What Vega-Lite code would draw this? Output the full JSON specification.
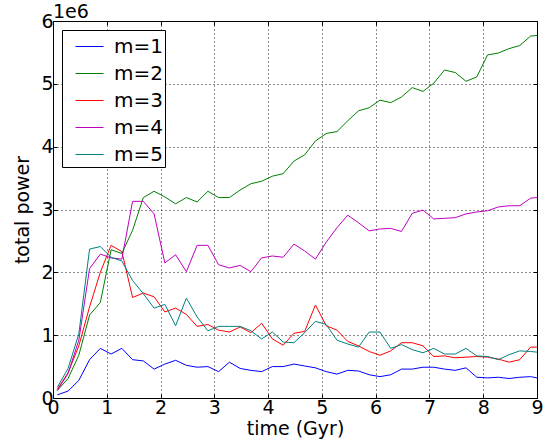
{
  "$schema": "https://vega.github.io/schema/vega-lite/v6.json",
  "autosize": "none",
  "width": 484,
  "height": 377,
  "padding": {"left": 53, "top": 21, "right": 15, "bottom": 45},
  "background": "white",
  "config": {
    "font": "DejaVu Sans",
    "view": {"stroke": "black", "strokeWidth": 1},
    "axis": {
      "domain": false,
      "tickColor": "black",
      "tickSize": -4,
      "tickWidth": 1,
      "labelColor": "black",
      "labelFontSize": 19,
      "titleColor": "black",
      "titleFontSize": 19,
      "titleFontWeight": "normal",
      "gridColor": "black",
      "gridDash": [1, 3],
      "gridWidth": 1,
      "gridOpacity": 0.9
    },
    "legend": {
      "orient": "none",
      "legendX": 9,
      "legendY": 9,
      "strokeColor": "black",
      "fillColor": "white",
      "padding": 2,
      "symbolType": "stroke",
      "symbolSize": 784,
      "symbolStrokeWidth": 1,
      "symbolOffset": 11,
      "labelFontSize": 20,
      "labelColor": "black",
      "labelOffset": 10,
      "rowPadding": 2,
      "cornerRadius": 0
    }
  },
  "title": {
    "text": "1e6",
    "anchor": "start",
    "frame": "group",
    "offset": -10,
    "fontSize": 19,
    "fontWeight": "normal",
    "color": "black"
  },
  "data": {
    "values": [
      {"m": "m=1", "time": 0.08, "power": 50000},
      {"m": "m=1", "time": 0.28, "power": 110000},
      {"m": "m=1", "time": 0.48, "power": 280000},
      {"m": "m=1", "time": 0.68, "power": 610000},
      {"m": "m=1", "time": 0.88, "power": 790000},
      {"m": "m=1", "time": 1.08, "power": 700000},
      {"m": "m=1", "time": 1.28, "power": 790000},
      {"m": "m=1", "time": 1.48, "power": 610000},
      {"m": "m=1", "time": 1.68, "power": 590000},
      {"m": "m=1", "time": 1.88, "power": 460000},
      {"m": "m=1", "time": 2.08, "power": 540000},
      {"m": "m=1", "time": 2.28, "power": 600000},
      {"m": "m=1", "time": 2.48, "power": 520000},
      {"m": "m=1", "time": 2.68, "power": 490000},
      {"m": "m=1", "time": 2.88, "power": 500000},
      {"m": "m=1", "time": 3.08, "power": 420000},
      {"m": "m=1", "time": 3.28, "power": 570000},
      {"m": "m=1", "time": 3.48, "power": 470000},
      {"m": "m=1", "time": 3.68, "power": 440000},
      {"m": "m=1", "time": 3.88, "power": 420000},
      {"m": "m=1", "time": 4.08, "power": 500000},
      {"m": "m=1", "time": 4.28, "power": 500000},
      {"m": "m=1", "time": 4.48, "power": 540000},
      {"m": "m=1", "time": 4.68, "power": 510000},
      {"m": "m=1", "time": 4.88, "power": 480000},
      {"m": "m=1", "time": 5.08, "power": 420000},
      {"m": "m=1", "time": 5.28, "power": 380000},
      {"m": "m=1", "time": 5.48, "power": 440000},
      {"m": "m=1", "time": 5.68, "power": 430000},
      {"m": "m=1", "time": 5.88, "power": 370000},
      {"m": "m=1", "time": 6.08, "power": 340000},
      {"m": "m=1", "time": 6.28, "power": 370000},
      {"m": "m=1", "time": 6.48, "power": 460000},
      {"m": "m=1", "time": 6.68, "power": 460000},
      {"m": "m=1", "time": 6.88, "power": 490000},
      {"m": "m=1", "time": 7.08, "power": 490000},
      {"m": "m=1", "time": 7.28, "power": 460000},
      {"m": "m=1", "time": 7.48, "power": 440000},
      {"m": "m=1", "time": 7.68, "power": 480000},
      {"m": "m=1", "time": 7.88, "power": 330000},
      {"m": "m=1", "time": 8.08, "power": 320000},
      {"m": "m=1", "time": 8.28, "power": 330000},
      {"m": "m=1", "time": 8.48, "power": 310000},
      {"m": "m=1", "time": 8.68, "power": 330000},
      {"m": "m=1", "time": 8.88, "power": 340000},
      {"m": "m=1", "time": 9.0, "power": 320000},

      {"m": "m=2", "time": 0.08, "power": 120000},
      {"m": "m=2", "time": 0.28, "power": 310000},
      {"m": "m=2", "time": 0.48, "power": 680000},
      {"m": "m=2", "time": 0.68, "power": 1320000},
      {"m": "m=2", "time": 0.88, "power": 1520000},
      {"m": "m=2", "time": 1.08, "power": 2360000},
      {"m": "m=2", "time": 1.28, "power": 2300000},
      {"m": "m=2", "time": 1.48, "power": 2670000},
      {"m": "m=2", "time": 1.68, "power": 3190000},
      {"m": "m=2", "time": 1.88, "power": 3290000},
      {"m": "m=2", "time": 2.08, "power": 3200000},
      {"m": "m=2", "time": 2.28, "power": 3090000},
      {"m": "m=2", "time": 2.48, "power": 3190000},
      {"m": "m=2", "time": 2.68, "power": 3120000},
      {"m": "m=2", "time": 2.88, "power": 3290000},
      {"m": "m=2", "time": 3.08, "power": 3190000},
      {"m": "m=2", "time": 3.28, "power": 3190000},
      {"m": "m=2", "time": 3.48, "power": 3310000},
      {"m": "m=2", "time": 3.68, "power": 3410000},
      {"m": "m=2", "time": 3.88, "power": 3450000},
      {"m": "m=2", "time": 4.08, "power": 3530000},
      {"m": "m=2", "time": 4.28, "power": 3570000},
      {"m": "m=2", "time": 4.48, "power": 3770000},
      {"m": "m=2", "time": 4.68, "power": 3870000},
      {"m": "m=2", "time": 4.88, "power": 4090000},
      {"m": "m=2", "time": 5.08, "power": 4210000},
      {"m": "m=2", "time": 5.28, "power": 4240000},
      {"m": "m=2", "time": 5.48, "power": 4410000},
      {"m": "m=2", "time": 5.68, "power": 4570000},
      {"m": "m=2", "time": 5.88, "power": 4620000},
      {"m": "m=2", "time": 6.08, "power": 4740000},
      {"m": "m=2", "time": 6.28, "power": 4700000},
      {"m": "m=2", "time": 6.48, "power": 4790000},
      {"m": "m=2", "time": 6.68, "power": 4940000},
      {"m": "m=2", "time": 6.88, "power": 4880000},
      {"m": "m=2", "time": 7.08, "power": 5010000},
      {"m": "m=2", "time": 7.28, "power": 5220000},
      {"m": "m=2", "time": 7.48, "power": 5180000},
      {"m": "m=2", "time": 7.68, "power": 5040000},
      {"m": "m=2", "time": 7.88, "power": 5110000},
      {"m": "m=2", "time": 8.08, "power": 5460000},
      {"m": "m=2", "time": 8.28, "power": 5490000},
      {"m": "m=2", "time": 8.48, "power": 5560000},
      {"m": "m=2", "time": 8.68, "power": 5610000},
      {"m": "m=2", "time": 8.88, "power": 5760000},
      {"m": "m=2", "time": 9.0, "power": 5770000},

      {"m": "m=3", "time": 0.08, "power": 140000},
      {"m": "m=3", "time": 0.28, "power": 400000},
      {"m": "m=3", "time": 0.48, "power": 830000},
      {"m": "m=3", "time": 0.68, "power": 1450000},
      {"m": "m=3", "time": 0.88, "power": 2000000},
      {"m": "m=3", "time": 1.08, "power": 2430000},
      {"m": "m=3", "time": 1.28, "power": 2330000},
      {"m": "m=3", "time": 1.48, "power": 1600000},
      {"m": "m=3", "time": 1.68, "power": 1670000},
      {"m": "m=3", "time": 1.88, "power": 1610000},
      {"m": "m=3", "time": 2.08, "power": 1370000},
      {"m": "m=3", "time": 2.28, "power": 1430000},
      {"m": "m=3", "time": 2.48, "power": 1330000},
      {"m": "m=3", "time": 2.68, "power": 1140000},
      {"m": "m=3", "time": 2.88, "power": 1170000},
      {"m": "m=3", "time": 3.08, "power": 1080000},
      {"m": "m=3", "time": 3.28, "power": 1050000},
      {"m": "m=3", "time": 3.48, "power": 1130000},
      {"m": "m=3", "time": 3.68, "power": 1040000},
      {"m": "m=3", "time": 3.88, "power": 1190000},
      {"m": "m=3", "time": 4.08, "power": 940000},
      {"m": "m=3", "time": 4.28, "power": 840000},
      {"m": "m=3", "time": 4.48, "power": 1030000},
      {"m": "m=3", "time": 4.68, "power": 1060000},
      {"m": "m=3", "time": 4.88, "power": 1480000},
      {"m": "m=3", "time": 5.08, "power": 1150000},
      {"m": "m=3", "time": 5.28, "power": 1080000},
      {"m": "m=3", "time": 5.48, "power": 900000},
      {"m": "m=3", "time": 5.68, "power": 830000},
      {"m": "m=3", "time": 5.88, "power": 740000},
      {"m": "m=3", "time": 6.08, "power": 680000},
      {"m": "m=3", "time": 6.28, "power": 750000},
      {"m": "m=3", "time": 6.48, "power": 880000},
      {"m": "m=3", "time": 6.68, "power": 880000},
      {"m": "m=3", "time": 6.88, "power": 830000},
      {"m": "m=3", "time": 7.08, "power": 660000},
      {"m": "m=3", "time": 7.28, "power": 670000},
      {"m": "m=3", "time": 7.48, "power": 640000},
      {"m": "m=3", "time": 7.68, "power": 650000},
      {"m": "m=3", "time": 7.88, "power": 660000},
      {"m": "m=3", "time": 8.08, "power": 650000},
      {"m": "m=3", "time": 8.28, "power": 620000},
      {"m": "m=3", "time": 8.48, "power": 570000},
      {"m": "m=3", "time": 8.68, "power": 610000},
      {"m": "m=3", "time": 8.88, "power": 810000},
      {"m": "m=3", "time": 9.0, "power": 810000},

      {"m": "m=4", "time": 0.08, "power": 120000},
      {"m": "m=4", "time": 0.28, "power": 390000},
      {"m": "m=4", "time": 0.48, "power": 920000},
      {"m": "m=4", "time": 0.68, "power": 2060000},
      {"m": "m=4", "time": 0.88, "power": 2290000},
      {"m": "m=4", "time": 1.08, "power": 2230000},
      {"m": "m=4", "time": 1.28, "power": 2210000},
      {"m": "m=4", "time": 1.48, "power": 3130000},
      {"m": "m=4", "time": 1.68, "power": 3130000},
      {"m": "m=4", "time": 1.88, "power": 2930000},
      {"m": "m=4", "time": 2.08, "power": 2150000},
      {"m": "m=4", "time": 2.28, "power": 2280000},
      {"m": "m=4", "time": 2.48, "power": 2010000},
      {"m": "m=4", "time": 2.68, "power": 2430000},
      {"m": "m=4", "time": 2.88, "power": 2430000},
      {"m": "m=4", "time": 3.08, "power": 2120000},
      {"m": "m=4", "time": 3.28, "power": 2070000},
      {"m": "m=4", "time": 3.48, "power": 2110000},
      {"m": "m=4", "time": 3.68, "power": 2010000},
      {"m": "m=4", "time": 3.88, "power": 2230000},
      {"m": "m=4", "time": 4.08, "power": 2260000},
      {"m": "m=4", "time": 4.28, "power": 2240000},
      {"m": "m=4", "time": 4.48, "power": 2450000},
      {"m": "m=4", "time": 4.68, "power": 2340000},
      {"m": "m=4", "time": 4.88, "power": 2210000},
      {"m": "m=4", "time": 5.08, "power": 2480000},
      {"m": "m=4", "time": 5.28, "power": 2710000},
      {"m": "m=4", "time": 5.48, "power": 2910000},
      {"m": "m=4", "time": 5.68, "power": 2790000},
      {"m": "m=4", "time": 5.88, "power": 2660000},
      {"m": "m=4", "time": 6.08, "power": 2690000},
      {"m": "m=4", "time": 6.28, "power": 2700000},
      {"m": "m=4", "time": 6.48, "power": 2650000},
      {"m": "m=4", "time": 6.68, "power": 2940000},
      {"m": "m=4", "time": 6.88, "power": 2990000},
      {"m": "m=4", "time": 7.08, "power": 2850000},
      {"m": "m=4", "time": 7.28, "power": 2860000},
      {"m": "m=4", "time": 7.48, "power": 2870000},
      {"m": "m=4", "time": 7.68, "power": 2930000},
      {"m": "m=4", "time": 7.88, "power": 2960000},
      {"m": "m=4", "time": 8.08, "power": 2980000},
      {"m": "m=4", "time": 8.28, "power": 3040000},
      {"m": "m=4", "time": 8.48, "power": 3060000},
      {"m": "m=4", "time": 8.68, "power": 3060000},
      {"m": "m=4", "time": 8.88, "power": 3180000},
      {"m": "m=4", "time": 9.0, "power": 3190000},

      {"m": "m=5", "time": 0.08, "power": 170000},
      {"m": "m=5", "time": 0.28, "power": 470000},
      {"m": "m=5", "time": 0.48, "power": 1020000},
      {"m": "m=5", "time": 0.68, "power": 2370000},
      {"m": "m=5", "time": 0.88, "power": 2410000},
      {"m": "m=5", "time": 1.08, "power": 2240000},
      {"m": "m=5", "time": 1.28, "power": 2180000},
      {"m": "m=5", "time": 1.48, "power": 1870000},
      {"m": "m=5", "time": 1.68, "power": 1660000},
      {"m": "m=5", "time": 1.88, "power": 1430000},
      {"m": "m=5", "time": 2.08, "power": 1490000},
      {"m": "m=5", "time": 2.28, "power": 1150000},
      {"m": "m=5", "time": 2.48, "power": 1590000},
      {"m": "m=5", "time": 2.68, "power": 1290000},
      {"m": "m=5", "time": 2.88, "power": 1070000},
      {"m": "m=5", "time": 3.08, "power": 1140000},
      {"m": "m=5", "time": 3.28, "power": 1140000},
      {"m": "m=5", "time": 3.48, "power": 1140000},
      {"m": "m=5", "time": 3.68, "power": 1070000},
      {"m": "m=5", "time": 3.88, "power": 940000},
      {"m": "m=5", "time": 4.08, "power": 1050000},
      {"m": "m=5", "time": 4.28, "power": 890000},
      {"m": "m=5", "time": 4.48, "power": 880000},
      {"m": "m=5", "time": 4.68, "power": 1040000},
      {"m": "m=5", "time": 4.88, "power": 1220000},
      {"m": "m=5", "time": 5.08, "power": 1170000},
      {"m": "m=5", "time": 5.28, "power": 920000},
      {"m": "m=5", "time": 5.48, "power": 860000},
      {"m": "m=5", "time": 5.68, "power": 810000},
      {"m": "m=5", "time": 5.88, "power": 1050000},
      {"m": "m=5", "time": 6.08, "power": 1050000},
      {"m": "m=5", "time": 6.28, "power": 790000},
      {"m": "m=5", "time": 6.48, "power": 850000},
      {"m": "m=5", "time": 6.68, "power": 770000},
      {"m": "m=5", "time": 6.88, "power": 720000},
      {"m": "m=5", "time": 7.08, "power": 790000},
      {"m": "m=5", "time": 7.28, "power": 700000},
      {"m": "m=5", "time": 7.48, "power": 700000},
      {"m": "m=5", "time": 7.68, "power": 790000},
      {"m": "m=5", "time": 7.88, "power": 670000},
      {"m": "m=5", "time": 8.08, "power": 660000},
      {"m": "m=5", "time": 8.28, "power": 610000},
      {"m": "m=5", "time": 8.48, "power": 690000},
      {"m": "m=5", "time": 8.68, "power": 750000},
      {"m": "m=5", "time": 8.88, "power": 740000},
      {"m": "m=5", "time": 9.0, "power": 730000}
    ]
  },
  "layer": [
    {
      "mark": {"type": "line", "strokeWidth": 1, "clip": true},
      "encoding": {
        "x": {
          "field": "time",
          "type": "quantitative",
          "scale": {"domain": [0, 9], "nice": false, "zero": false},
          "axis": {
            "orient": "bottom",
            "values": [0, 1, 2, 3, 4, 5, 6, 7, 8, 9],
            "title": "time (Gyr)",
            "titlePadding": 2,
            "labelPadding": 4,
            "labelFlush": false,
            "grid": true
          }
        },
        "y": {
          "field": "power",
          "type": "quantitative",
          "scale": {"domain": [0, 6000000], "nice": false},
          "axis": {
            "orient": "left",
            "values": [0, 1000000, 2000000, 3000000, 4000000, 5000000, 6000000],
            "labelExpr": "format(datum.value / 1000000, 'd')",
            "title": "total power",
            "titlePadding": 8,
            "labelPadding": 4,
            "labelFlush": false,
            "grid": true
          }
        },
        "color": {
          "field": "m",
          "type": "nominal",
          "scale": {
            "domain": ["m=1", "m=2", "m=3", "m=4", "m=5"],
            "range": ["#0000ff", "#008000", "#ff0000", "#bf00bf", "#008080"]
          },
          "legend": {"title": null, "labelExpr": "datum.label + '  '"}
        }
      }
    },
    {
      "mark": {"type": "line", "opacity": 0},
      "encoding": {
        "x": {
          "field": "time",
          "type": "quantitative",
          "axis": {
            "orient": "top",
            "values": [0, 1, 2, 3, 4, 5, 6, 7, 8, 9],
            "labels": false,
            "title": null,
            "grid": false
          }
        },
        "y": {
          "field": "power",
          "type": "quantitative",
          "axis": {
            "orient": "right",
            "values": [0, 1000000, 2000000, 3000000, 4000000, 5000000, 6000000],
            "labels": false,
            "title": null,
            "grid": false
          }
        },
        "detail": {"field": "m", "type": "nominal"}
      }
    }
  ],
  "resolve": {"axis": {"x": "independent", "y": "independent"}}
}
